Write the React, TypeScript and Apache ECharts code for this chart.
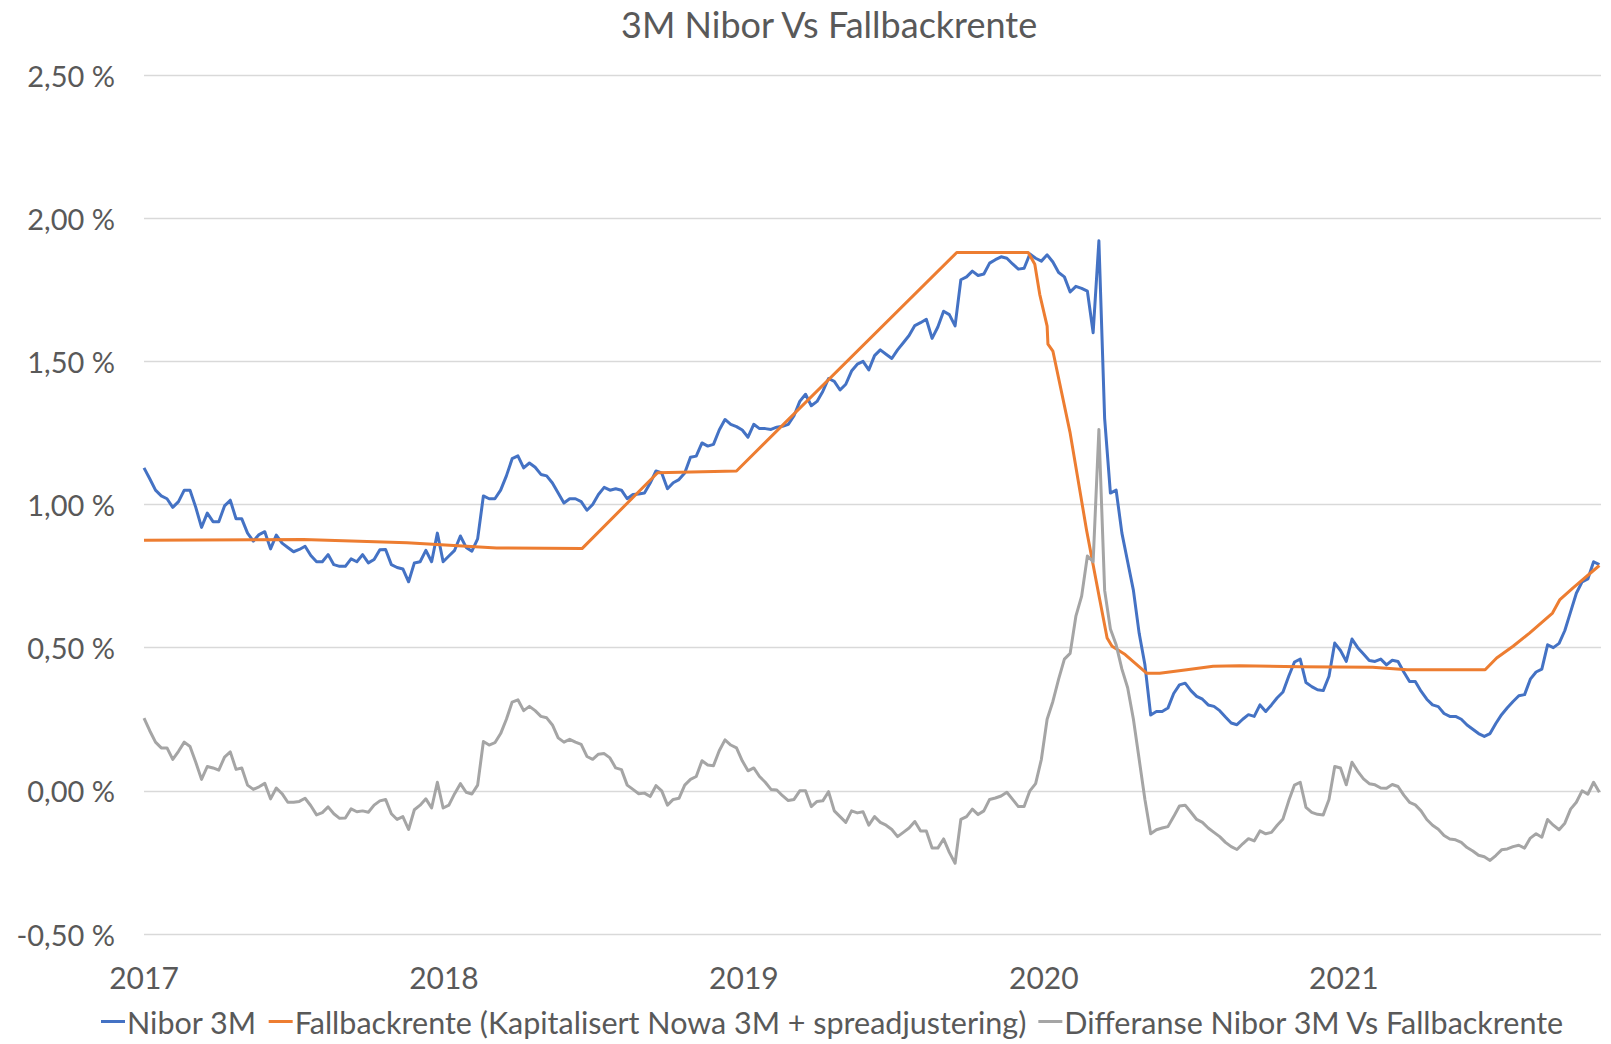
import React, { useEffect, useRef } from "react";
import * as echarts from "echarts";

// Weekly observations starting 2017-01-01 (x = day offset = index * 7)
const WEEK_DAYS = 7;
const AXIS_MAX_DAY = 1773;
const YEAR_DAYS = 365;
const yearLabels = ["2017", "2018", "2019", "2020", "2021"];

const niborValues = [
  1.128, 1.09, 1.05, 1.03, 1.02, 0.99, 1.01, 1.05, 1.05, 0.99,
  0.92, 0.97, 0.94, 0.94, 0.995, 1.015, 0.95, 0.95, 0.9, 0.872,
  0.895, 0.905, 0.845, 0.893, 0.865, 0.85, 0.835, 0.843, 0.854, 0.822,
  0.8, 0.8, 0.825, 0.79, 0.784, 0.784, 0.81, 0.8, 0.825, 0.796,
  0.808, 0.842, 0.843, 0.79, 0.78, 0.775, 0.73, 0.796, 0.8, 0.84,
  0.8, 0.9, 0.8, 0.82, 0.84, 0.89, 0.85, 0.837, 0.88, 1.03,
  1.02, 1.02, 1.05, 1.1, 1.16, 1.17, 1.128, 1.145, 1.13, 1.105,
  1.1, 1.075, 1.04, 1.005, 1.02, 1.02, 1.01, 0.98, 1.0, 1.035,
  1.06, 1.05, 1.055, 1.05, 1.02, 1.035, 1.037, 1.04, 1.075, 1.117,
  1.11, 1.055, 1.076, 1.087, 1.11, 1.165, 1.169, 1.215, 1.204, 1.21,
  1.26, 1.297, 1.28, 1.272, 1.26, 1.235, 1.28, 1.265, 1.265, 1.262,
  1.27, 1.273, 1.28, 1.31, 1.36, 1.385, 1.345, 1.36, 1.395, 1.44,
  1.43, 1.4, 1.42, 1.466, 1.49, 1.5, 1.47, 1.52, 1.54, 1.525,
  1.51, 1.54, 1.565, 1.59, 1.625, 1.635, 1.647, 1.58, 1.62, 1.675,
  1.663, 1.624, 1.785, 1.795, 1.815, 1.8, 1.805, 1.843, 1.855, 1.865,
  1.86, 1.84, 1.822, 1.825, 1.875, 1.86, 1.85, 1.872, 1.847, 1.81,
  1.795, 1.742, 1.762, 1.755, 1.745, 1.6, 1.921, 1.3, 1.04, 1.05,
  0.9, 0.8, 0.7, 0.55, 0.44, 0.265, 0.277, 0.277, 0.289, 0.34,
  0.37, 0.376, 0.35, 0.33, 0.32, 0.3, 0.295, 0.28, 0.258, 0.237,
  0.231, 0.25, 0.266, 0.26, 0.3, 0.277, 0.3, 0.325, 0.345, 0.4,
  0.45, 0.46, 0.378, 0.364, 0.353, 0.35, 0.4, 0.516, 0.49, 0.452,
  0.53, 0.5, 0.478, 0.455, 0.452, 0.46, 0.44, 0.456, 0.452, 0.415,
  0.382, 0.382, 0.348, 0.32, 0.3, 0.294, 0.27, 0.26, 0.26, 0.25,
  0.23, 0.215, 0.2, 0.19, 0.2, 0.235, 0.266, 0.29, 0.312, 0.332,
  0.336, 0.39, 0.415, 0.425, 0.51, 0.5, 0.515, 0.56, 0.625, 0.69,
  0.73, 0.74, 0.8, 0.79,
];

const diffValues = [
  0.254, 0.21, 0.17, 0.15, 0.15, 0.11, 0.138, 0.17, 0.155, 0.1,
  0.04, 0.085, 0.08, 0.072, 0.118, 0.136, 0.075, 0.08, 0.02, 0.005,
  0.014, 0.026, -0.028, 0.01, -0.01, -0.04, -0.04, -0.037, -0.026, -0.052,
  -0.084, -0.076, -0.056, -0.08, -0.096, -0.095, -0.063, -0.073, -0.07, -0.075,
  -0.05, -0.035, -0.03, -0.08, -0.1, -0.09, -0.135, -0.066, -0.05, -0.028,
  -0.06, 0.03, -0.06, -0.05, -0.01, 0.025, -0.005, -0.011, 0.02, 0.172,
  0.16, 0.168, 0.2, 0.25, 0.31, 0.318, 0.28, 0.295, 0.28, 0.26,
  0.255, 0.23, 0.185, 0.17, 0.18, 0.17, 0.162, 0.12, 0.11, 0.128,
  0.13, 0.115, 0.08, 0.074, 0.02, 0.005, -0.01, -0.008, -0.02, 0.018,
  0.0, -0.05, -0.03, -0.026, 0.02, 0.04, 0.05, 0.105, 0.09, 0.088,
  0.14, 0.178, 0.16, 0.15, 0.105, 0.07, 0.08, 0.05, 0.03, 0.005,
  0.003, -0.017, -0.034, -0.03, 0.0, 0.0, -0.055, -0.037, -0.035, -0.003,
  -0.07, -0.09, -0.11, -0.07, -0.077, -0.073, -0.12, -0.09, -0.11, -0.12,
  -0.135, -0.16, -0.145, -0.13, -0.107, -0.14, -0.14, -0.2, -0.2, -0.168,
  -0.215, -0.253, -0.1, -0.09, -0.064, -0.083, -0.07, -0.03, -0.025, -0.018,
  -0.005, -0.03, -0.055, -0.055, 0.0, 0.025, 0.11, 0.25, 0.312, 0.39,
  0.46, 0.48, 0.61, 0.68, 0.82, 0.8, 1.262, 0.7, 0.565, 0.51,
  0.425, 0.36, 0.25, 0.11, -0.03, -0.15, -0.136, -0.13, -0.125, -0.09,
  -0.053, -0.05, -0.075, -0.1, -0.11, -0.13, -0.145, -0.16, -0.18, -0.195,
  -0.205, -0.185, -0.167, -0.175, -0.14, -0.15, -0.145, -0.12, -0.098, -0.035,
  0.02, 0.03, -0.058, -0.075, -0.082, -0.084, -0.03, 0.085, 0.08, 0.021,
  0.1, 0.068, 0.042, 0.025, 0.021, 0.01, 0.009, 0.022, 0.015, -0.015,
  -0.04, -0.049, -0.07, -0.1, -0.12, -0.134, -0.156, -0.168, -0.171, -0.18,
  -0.198, -0.21, -0.225, -0.23, -0.243, -0.226, -0.206, -0.203, -0.195, -0.19,
  -0.2, -0.165, -0.15, -0.162, -0.1, -0.12, -0.136, -0.113, -0.064, -0.04,
  0.0, -0.012, 0.03, -0.005,
];

// Fallback rate: day offset from 2017-01-01 and value (%)
const fallbackDays = [
  0, 194, 320, 429, 533, 625, 721, 989, 1076, 1084, 1090, 1099, 1100, 1106,
  1127, 1147, 1163, 1172, 1178, 1194, 1220, 1236, 1269, 1301, 1333, 1406,
  1495, 1537, 1632, 1646, 1666, 1686, 1714, 1723, 1739, 1771,
];
const fallbackValues = [
  0.875, 0.878, 0.866, 0.848, 0.846, 1.111, 1.117, 1.88, 1.88, 1.839, 1.734,
  1.623, 1.56, 1.536, 1.25, 0.91, 0.668, 0.534, 0.505, 0.476, 0.411, 0.411,
  0.423, 0.435, 0.437, 0.433, 0.432, 0.423, 0.423, 0.464, 0.505, 0.551,
  0.621, 0.668, 0.709, 0.787,
];

const seriesNames = [
  "Nibor 3M",
  "Fallbackrente (Kapitalisert Nowa 3M + spreadjustering)",
  "Differanse Nibor 3M Vs Fallbackrente",
];
const seriesColors = ["#4472C4", "#ED7D31", "#A5A5A5"];
const titleText = "3M Nibor Vs Fallbackrente";

const FONT = "Lato, 'Liberation Sans', sans-serif";
const TEXT_COLOR = "#595959";

export default function App() {
  const ref = useRef<HTMLDivElement>(null);

  useEffect(() => {
    document.body.style.margin = "0";
    if (!ref.current) return;
    const chart = echarts.init(ref.current, undefined, { renderer: "svg" });

    const niborData = niborValues.map((v, i) => [i * WEEK_DAYS, v]);
    const diffData = diffValues.map((v, i) => [i * WEEK_DAYS, v]);
    const fallbackData = fallbackDays.map((d, i) => [d, fallbackValues[i]]);

    const lineSeries = (name: string, color: string, data: number[][]) => ({
      name,
      type: "line",
      data,
      showSymbol: false,
      symbol: "none",
      lineStyle: { color, width: 3, join: "round" },
      itemStyle: { color },
    });

    chart.setOption({
      animation: false,
      backgroundColor: "#ffffff",
      title: {
        text: titleText,
        left: 616,
        top: 1,
        padding: 5,
        textStyle: {
          fontFamily: FONT,
          fontSize: 36,
          fontWeight: "normal",
          color: TEXT_COLOR,
        },
      },
      legend: {
        bottom: 2,
        left: 96,
        padding: 5,
        icon: "rect",
        itemWidth: 24,
        itemHeight: 3,
        itemGap: 12,
        textStyle: { fontFamily: FONT, fontSize: 30.5, color: TEXT_COLOR, padding: [0, 0, 0, -3] },
        data: seriesNames,
      },
      grid: { left: 144, right: 10, top: 75, bottom: 110, containLabel: false },
      xAxis: {
        type: "value",
        min: 0,
        max: AXIS_MAX_DAY,
        interval: YEAR_DAYS,
        axisLine: { show: false },
        axisTick: { show: false },
        splitLine: { show: false },
        axisLabel: {
          fontFamily: FONT,
          fontSize: 30,
          color: TEXT_COLOR,
          margin: 28,
          showMaxLabel: false,
          formatter: (v: number) => {
            const k = Math.round(v / YEAR_DAYS);
            return Math.abs(v - k * YEAR_DAYS) < 1 && yearLabels[k] ? yearLabels[k] : "";
          },
        },
      },
      yAxis: {
        type: "value",
        min: -0.5,
        max: 2.5,
        interval: 0.5,
        axisLine: { show: false },
        axisTick: { show: false },
        splitLine: { lineStyle: { color: "#D9D9D9", width: 1.3 } },
        axisLabel: {
          fontFamily: FONT,
          fontSize: 29,
          color: TEXT_COLOR,
          margin: 29,
          formatter: (v: number) => v.toFixed(2).replace(".", ",") + " %",
        },
      },
      series: [
        lineSeries(seriesNames[0], seriesColors[0], niborData),
        lineSeries(seriesNames[1], seriesColors[1], fallbackData),
        lineSeries(seriesNames[2], seriesColors[2], diffData),
      ],
    });

    return () => chart.dispose();
  }, []);

  return (
    <div
      ref={ref}
      style={{ position: "absolute", left: 0, top: 0, width: 1611, height: 1044 }}
    />
  );
}
